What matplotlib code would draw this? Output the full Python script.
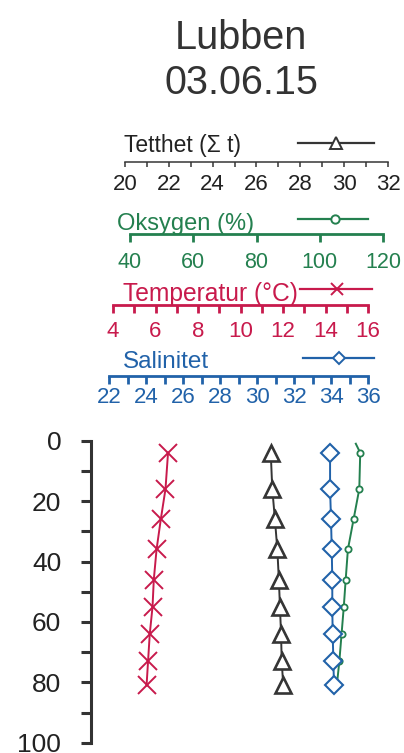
import matplotlib
matplotlib.use("Agg")
import matplotlib.pyplot as plt
from matplotlib.lines import Line2D
from matplotlib.ticker import MultipleLocator

plt.rcParams["font.family"] = ["Liberation Sans", "DejaVu Sans"]

# depth profile, Lubben 03.06.15
depth = [4, 16, 26, 36, 46, 55, 64, 73, 81]
tetthet = [26.65, 26.72, 26.84, 26.95, 27.02, 27.07, 27.12, 27.15, 27.22]
salinitet = [33.95, 33.95, 34.00, 34.04, 34.07, 34.07, 34.09, 34.13, 34.16]
temperatur = [6.59, 6.47, 6.25, 6.05, 5.92, 5.86, 5.73, 5.65, 5.58]
oks_depth = [1, 4, 16, 26, 36, 46, 55, 64, 73, 81]
oksygen = [111.4, 112.8, 112.5, 110.7, 108.9, 108.2, 107.6, 106.9, 106.2, 105.4]

c_tett = "#353535"
c_oks = "#24804f"
c_temp = "#c81a4c"
c_sal = "#2162a9"

W, H = 404, 753
fig = plt.figure(figsize=(W / 100, H / 100), dpi=100)


def px_axes(x0, y0, x1, y1):
    return fig.add_axes([x0 / W, 1 - y1 / H, (x1 - x0) / W, (y1 - y0) / H])


fig.text(241 / W, 1 - 49 / H, "Lubben", ha="center", va="baseline",
         fontsize=28.5, color="#333333")
fig.text(241 / W, 1 - 94 / H, "03.06.15", ha="center", va="baseline",
         fontsize=28.5, color="#333333")

# scale axes: label, colour, x0, x1, line y, limits, major, minor,
# tick label size, tick length px, line width, tick pad, label baseline y, label x, label size
scales = [
    ("Tetthet (Σ t)", c_tett, 125, 388, 162, (20, 32), 2, 1, 16, 5, 1.1, 4.9, 151.7, 124, 16.5),
    ("Oksygen (%)", c_oks, 130, 383, 234, (40, 120), 20, 20, 15.5, 8, 2.0, 7.0, 230, 117, 17),
    ("Temperatur (°C)", c_temp, 113, 368, 305, (4, 16), 2, 1, 16, 8, 2.0, 5.6, 300.7, 123, 17.7),
    ("Salinitet", c_sal, 109, 368, 376, (22, 36), 2, 1, 16, 8, 2.0, 2.5, 368, 123, 17.5),
]

for label, col, x0, x1, yl, lim, maj, mnr, lsize, tlen, lw, pad, tby, tx, tsize in scales:
    ax = px_axes(x0, yl - 1, x1, yl)
    ax.set_xlim(*lim)
    ax.patch.set_visible(False)
    for s in ["top", "left", "right"]:
        ax.spines[s].set_visible(False)
    ax.spines["bottom"].set_color(col)
    ax.spines["bottom"].set_linewidth(lw)
    ax.set_yticks([])
    ax.xaxis.set_major_locator(MultipleLocator(maj))
    ax.xaxis.set_minor_locator(MultipleLocator(mnr))
    tcol = col if col != c_tett else "#222222"
    ax.tick_params(axis="x", which="both", direction="out", length=tlen * 0.72,
                   width=lw, color=col, labelcolor=tcol, labelsize=lsize, pad=pad)
    fig.text(tx / W, 1 - tby / H, label, ha="left", va="baseline",
             fontsize=tsize, color=tcol)

# legend samples
samples = [
    (c_tett, 298, 374, 142.7, 336, "^", 9, 1.4),
    (c_oks, 298, 368, 219.3, 335, "o", 6, 1.4),
    (c_temp, 300, 372, 289.3, 337, "x", 9, 1.4),
    (c_sal, 303, 374, 358.3, 339, "D", 6, 1.4),
]
for col, xa, xb, y, xm, mk, ms, mew in samples:
    fig.add_artist(Line2D([xa / W, xb / W], [1 - y / H, 1 - y / H],
                          transform=fig.transFigure, color=col, lw=1.6))
    fig.add_artist(Line2D([xm / W], [1 - y / H], transform=fig.transFigure,
                          color=col, marker=mk, ms=ms, mfc="white", mew=mew, lw=0))

# main depth axis
top, bottom = 440.7, 742.7
ax = px_axes(91, top, 385, bottom)
ax.set_ylim(100, 0)
ax.set_xlim(0, 1)
ax.patch.set_visible(False)
for s in ["top", "bottom", "right"]:
    ax.spines[s].set_visible(False)
ax.spines["left"].set_linewidth(2.2)
ax.spines["left"].set_color("#333333")
ax.set_xticks([])
ax.yaxis.set_major_locator(MultipleLocator(20))
ax.yaxis.set_minor_locator(MultipleLocator(10))
ax.tick_params(axis="y", which="both", direction="out", length=7.5, width=2.2,
               color="#333333", labelcolor="#222222", labelsize=19, pad=14)

# one overlay axes per series, sharing the scale of its top axis
series = [
    (c_tett, 125, 388, (20, 32), depth, tetthet, "^", 11, 1.9, None),
    (c_oks, 130, 383, (40, 120), oks_depth, oksygen, "o", 4.5, 1.3, list(range(1, len(oksygen)))),
    (c_sal, 109, 368, (22, 36), depth, salinitet, "D", 9.5, 1.5, None),
    (c_temp, 113, 368, (4, 16), depth, temperatur, "x", 13, 1.4, None),
]
for col, x0, x1, lim, d, v, mk, ms, mew, mev in series:
    sax = px_axes(x0, top, x1, bottom)
    sax.set_xlim(*lim)
    sax.set_ylim(100, 0)
    sax.axis("off")
    sax.plot(v, d, color=col, lw=1.4, marker=mk, ms=ms, mfc="white", mec=col,
             mew=mew, markevery=mev, clip_on=False)

fig.savefig("out.png", dpi=100)
